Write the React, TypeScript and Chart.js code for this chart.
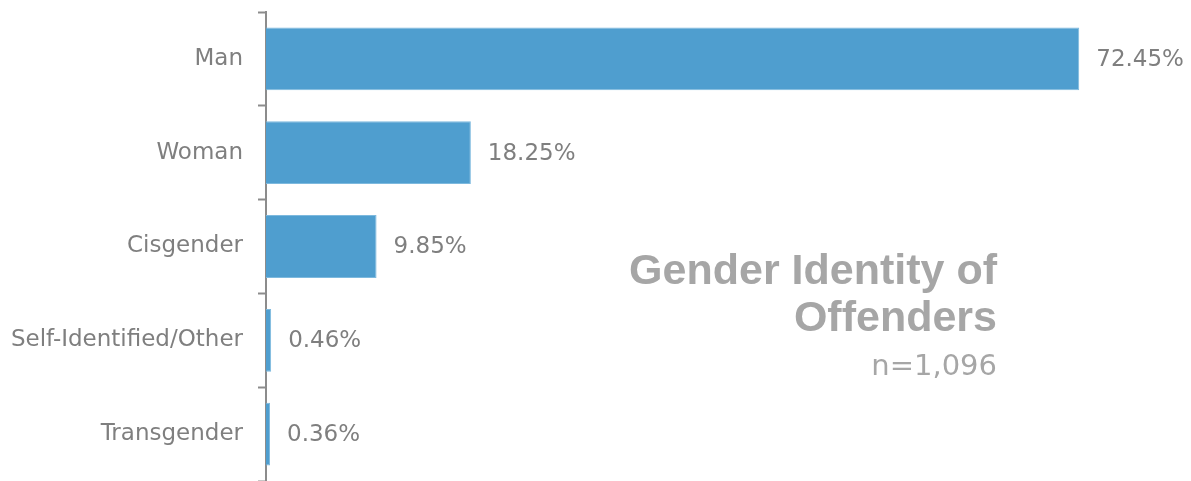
import React, { useEffect, useRef } from "react";
import { Chart, registerables } from "chart.js";

Chart.register(...registerables);

const categories = ["Man", "Woman", "Cisgender", "Self-Identified/Other", "Transgender"];
const percentValues = [72.45, 18.25, 9.85, 0.46, 0.36];
const titleLines = ["Gender Identity of", "Offenders"];
const subtitle = "n=1,096";

const valueLabelPlugin = {
  id: "valueLabels",
  afterDatasetsDraw(chart: any) {
    const ctx = chart.ctx;
    const meta = chart.getDatasetMeta(0);
    ctx.save();
    ctx.font = "23px 'DejaVu Sans'";
    ctx.fillStyle = "#7f7f7f";
    ctx.textAlign = "left";
    ctx.textBaseline = "middle";
    meta.data.forEach((bar: any, i: number) => {
      const v = chart.data.datasets[0].data[i];
      ctx.fillText(v.toFixed(2) + "%", bar.x + 17, bar.y + 1);
    });
    ctx.restore();
  },
};

export default function App() {
  const ref = useRef<HTMLCanvasElement>(null);
  useEffect(() => {
    document.body.style.margin = "0";
    const chart = new Chart(ref.current!, {
      type: "bar",
      data: {
        labels: categories,
        datasets: [
          {
            data: percentValues,
            backgroundColor: "#4f9ecf",
            borderColor: "#7db9de",
            borderWidth: 1,
            barPercentage: 0.67,
            categoryPercentage: 1,
          },
        ],
      },
      options: {
        indexAxis: "y",
        animation: false,
        responsive: false,
        layout: { padding: { top: 12, right: 27, bottom: 0, left: 0 } },
        plugins: { legend: { display: false }, tooltip: { enabled: false }, title: { display: false } },
        scales: {
          x: { display: false, min: 0, max: 80 },
          y: {
            afterFit: (s: any) => {
              s.width = 266;
              s.paddingTop = 0;
              s.paddingBottom = 0;
            },
            border: { display: true, color: "#8c8c8c", width: 2 },
            grid: {
              offset: true,
              drawOnChartArea: false,
              drawTicks: true,
              tickLength: 8,
              tickWidth: 2,
              color: "#8c8c8c",
            },
            ticks: {
              color: "#7f7f7f",
              font: { family: "'DejaVu Sans'", size: 23 },
              padding: 15,
            },
          },
        },
      },
      plugins: [valueLabelPlugin],
    });
    return () => chart.destroy();
  }, []);

  return (
    <div style={{ position: "relative", width: 1191, height: 481 }}>
      <canvas ref={ref} width={1191} height={481} style={{ display: "block" }} />
      <div
        style={{
          position: "absolute",
          right: 1191 - 997,
          top: 246,
          textAlign: "right",
          color: "#a6a6a6",
          whiteSpace: "nowrap",
        }}
      >
        <div style={{ font: "bold 43px 'Liberation Sans', Arial, sans-serif", lineHeight: "47px" }}>{titleLines[0]}</div>
        <div style={{ font: "bold 43px 'Liberation Sans', Arial, sans-serif", lineHeight: "47px" }}>{titleLines[1]}</div>
        <div style={{ font: "29px 'DejaVu Sans', sans-serif", lineHeight: "40px", marginTop: 5 }}>{subtitle}</div>
      </div>
    </div>
  );
}
